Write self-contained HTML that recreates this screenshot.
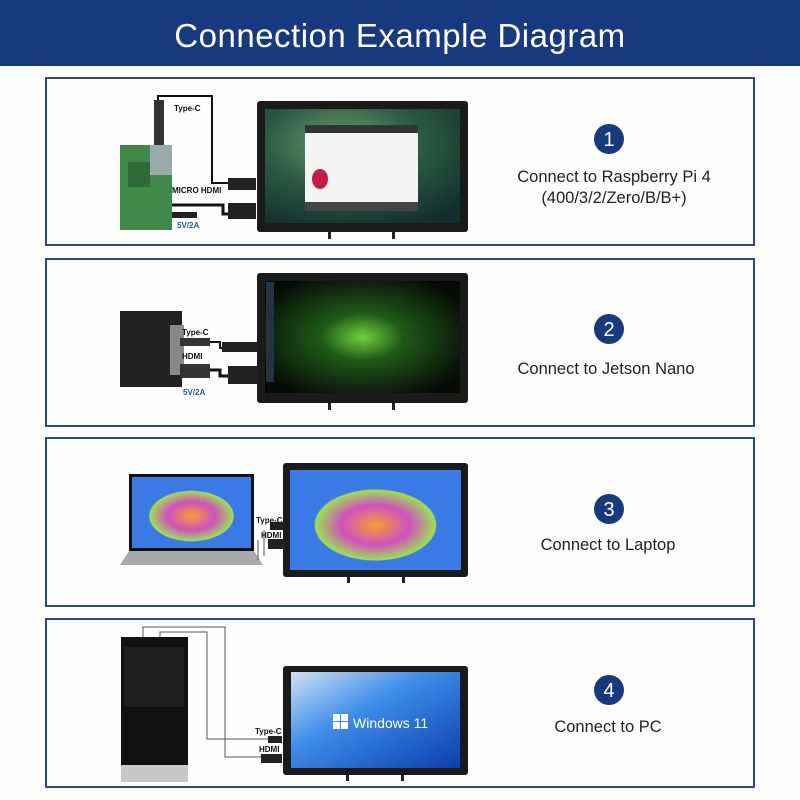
<!DOCTYPE html>
<html><head><meta charset="utf-8"><style>
html,body{margin:0;padding:0;background:#fff;}
svg{display:block}
text{font-family:"Liberation Sans","DejaVu Sans",sans-serif;}
</style></head><body>
<svg width="800" height="800" viewBox="0 0 800 800" xmlns="http://www.w3.org/2000/svg">
<defs>
<radialGradient id="rg1" cx="0.4" cy="0.3" r="0.8"><stop offset="0" stop-color="#6fa06a"/><stop offset="0.5" stop-color="#2b5a45"/><stop offset="1" stop-color="#12302a"/></radialGradient>
<radialGradient id="rg2" cx="0.5" cy="0.5" r="0.6"><stop offset="0" stop-color="#6fd23a"/><stop offset="0.35" stop-color="#1f5a18"/><stop offset="1" stop-color="#060a06"/></radialGradient>
<radialGradient id="rg3" cx="0.5" cy="0.55" r="0.5"><stop offset="0" stop-color="#f5a030"/><stop offset="0.4" stop-color="#d050c0"/><stop offset="0.7" stop-color="#9ce050"/><stop offset="0.72" stop-color="#3a7ae6"/><stop offset="1" stop-color="#3a7ae6"/></radialGradient>
<linearGradient id="win" x1="0" y1="0" x2="1" y2="1"><stop offset="0" stop-color="#cfe0f2"/><stop offset="0.4" stop-color="#3e8ee8"/><stop offset="1" stop-color="#0a3fb0"/></linearGradient>
</defs>
<rect width="800" height="800" fill="#fdfdfd"/>
<rect x="0" y="0" width="800" height="66" fill="#173a7e"/>
<text x="400" y="47" text-anchor="middle" font-size="33" fill="#fff" letter-spacing="0.5">Connection Example Diagram</text>

<g fill="#fdfdfe" stroke="#2a4a80" stroke-width="2">
<rect x="46" y="78" width="708" height="167"/>
<rect x="46" y="259" width="708" height="167"/>
<rect x="46" y="438" width="708" height="168"/>
<rect x="46" y="619" width="708" height="168"/>
</g>

<g fill="#173a7e"><circle cx="609" cy="139" r="15"/><circle cx="609" cy="329" r="15"/><circle cx="609" cy="509" r="15"/><circle cx="609" cy="690" r="15"/></g>
<g fill="#fff" font-size="20" text-anchor="middle"><text x="609" y="146">1</text><text x="609" y="336">2</text><text x="609" y="516">3</text><text x="609" y="697">4</text></g>
<g fill="#222" font-size="16.5" text-anchor="middle">
<text x="614" y="182">Connect to Raspberry Pi 4</text>
<text x="614" y="203">(400/3/2/Zero/B/B+)</text>
<text x="606" y="374">Connect to Jetson Nano</text>
<text x="608" y="550">Connect to Laptop</text>
<text x="608" y="732">Connect to PC</text>
</g>

<!-- Panel 1 -->
<rect x="257" y="101" width="211" height="131" rx="3" fill="#1a1a1a"/>
<rect x="265" y="109" width="195" height="114" fill="url(#rg1)"/>
<rect x="305" y="125" width="113" height="86" fill="#f4f4f4"/>
<rect x="305" y="125" width="113" height="8" fill="#333"/>
<rect x="305" y="202" width="113" height="9" fill="#444"/>
<ellipse cx="320" cy="179" rx="8" ry="10" fill="#c51a4a"/>
<rect x="328" y="232" width="3" height="7" fill="#222"/><rect x="392" y="232" width="3" height="7" fill="#222"/>
<rect x="120" y="145" width="52" height="85" fill="#3f8a4a"/>
<rect x="128" y="162" width="22" height="25" fill="#2f6a38"/>
<rect x="150" y="145" width="22" height="30" fill="#9aa"/>
<rect x="154" y="100" width="10" height="45" fill="#333"/>
<path d="M158 100 V96 H212 V183 H240" fill="none" stroke="#111" stroke-width="2"/>
<path d="M172 205 H223 V214 H240" fill="none" stroke="#111" stroke-width="3"/>
<rect x="228" y="178" width="28" height="12" fill="#222"/><rect x="228" y="203" width="28" height="16" fill="#222"/>
<rect x="172" y="212" width="25" height="6" fill="#222"/>
<g font-size="8" font-weight="bold" fill="#111"><text x="174" y="111">Type-C</text><text x="172" y="193">MICRO HDMI</text></g>
<text x="177" y="228" font-size="8" font-weight="bold" fill="#2a5a8a">5V/2A</text>

<!-- Panel 2 -->
<rect x="257" y="273" width="211" height="130" rx="3" fill="#1a1a1a"/>
<rect x="265" y="281" width="195" height="112" fill="url(#rg2)"/>
<rect x="266" y="282" width="8" height="100" fill="#234"/>
<rect x="328" y="403" width="3" height="7" fill="#222"/><rect x="392" y="403" width="3" height="7" fill="#222"/>
<rect x="120" y="311" width="62" height="76" fill="#222"/>
<rect x="170" y="325" width="14" height="50" fill="#888"/>
<rect x="180" y="338" width="30" height="8" fill="#333"/><rect x="180" y="364" width="30" height="14" fill="#333"/>
<path d="M210 342 H220 V348 H240" fill="none" stroke="#111" stroke-width="2"/>
<path d="M210 370 H220 V376 H240" fill="none" stroke="#111" stroke-width="3"/>
<rect x="222" y="342" width="36" height="10" fill="#222"/><rect x="228" y="366" width="30" height="18" fill="#222"/>
<g font-size="8" font-weight="bold" fill="#111"><text x="182" y="335">Type-C</text><text x="182" y="359">HDMI</text></g>
<text x="183" y="395" font-size="8" font-weight="bold" fill="#2a5a8a">5V/2A</text>

<!-- Panel 3 -->
<rect x="283" y="463" width="185" height="114" rx="3" fill="#1a1a1a"/>
<rect x="290" y="470" width="171" height="100" fill="url(#rg3)"/>
<rect x="347" y="577" width="3" height="6" fill="#222"/><rect x="402" y="577" width="3" height="6" fill="#222"/>
<rect x="129" y="474" width="125" height="77" fill="#111"/>
<rect x="132" y="477" width="119" height="71" fill="url(#rg3)"/>
<path d="M120 565 L129 551 H254 L263 565 Z" fill="#aaa"/>
<path d="M264 530 V556 M258 540 V560" stroke="#555" stroke-width="1" fill="none"/>
<rect x="270" y="522" width="14" height="8" fill="#222"/><rect x="268" y="539" width="16" height="10" fill="#222"/>
<g font-size="8" font-weight="bold" fill="#111"><text x="256" y="523">Type-C</text><text x="261" y="538">HDMI</text></g>

<!-- Panel 4 -->
<rect x="283" y="666" width="185" height="109" rx="3" fill="#1a1a1a"/>
<rect x="291" y="672" width="169" height="96" fill="url(#win)"/>
<g fill="#fff"><rect x="333" y="714" width="7" height="7"/><rect x="341" y="714" width="7" height="7"/><rect x="333" y="722" width="7" height="7"/><rect x="341" y="722" width="7" height="7"/></g>
<text x="353" y="728" font-size="14" fill="#fff">Windows 11</text>
<rect x="346" y="775" width="3" height="6" fill="#222"/><rect x="401" y="775" width="3" height="6" fill="#222"/>
<rect x="121" y="637" width="67" height="128" fill="#111"/>
<rect x="121" y="765" width="67" height="17" fill="#c8c8c8"/>
<rect x="124" y="647" width="60" height="60" fill="#1e1e1e"/>
<path d="M143 637 V627 H225 V757 H270 M160 637 V632 H207 V739 H270" fill="none" stroke="#555" stroke-width="1"/>
<rect x="268" y="736" width="14" height="7" fill="#222"/><rect x="261" y="754" width="21" height="9" fill="#222"/>
<g font-size="8" font-weight="bold" fill="#111"><text x="255" y="734">Type-C</text><text x="259" y="752">HDMI</text></g>
</svg>
</body></html>
